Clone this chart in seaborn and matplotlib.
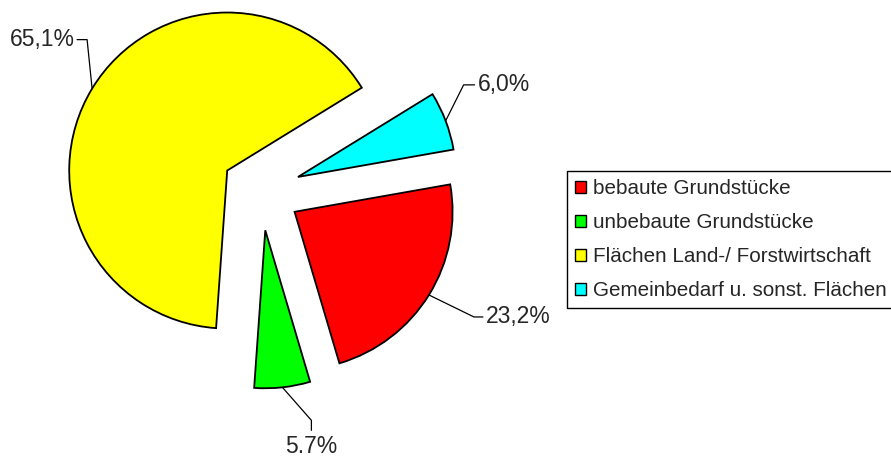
import numpy as np
import seaborn as sns
import matplotlib.pyplot as plt
from matplotlib.patches import Patch

# data
categories = ['bebaute Grundstücke', 'unbebaute Grundstücke',
              'Flächen Land-/ Forstwirtschaft', 'Gemeinbedarf u. sonst. Flächen']
shares = [23.2, 5.7, 65.1, 6.0]
pct_labels = ['23,2%', '5.7%', '65,1%', '6,0%']
colors = ['#ff0000', '#00ff00', '#ffff00', '#00ffff']

sns.set_style('white')
plt.rcParams['font.family'] = ['Liberation Sans', 'DejaVu Sans']

fig = plt.figure(figsize=(8.91, 4.59), dpi=100)

# pie axes: centre at pixel (261, 191), radius 158 px
R = 158.0
cx, cy = 261, 191
ax = fig.add_axes([0, 0, 540 / 891, 1])
wedges, _ = ax.pie(shares, colors=colors, startangle=10, counterclock=False,
                   explode=[0.25] * 4, radius=1,
                   wedgeprops=dict(edgecolor='black', linewidth=1.3))
ax.set_aspect('auto')
ax.set_xlim(-cx / R, (540 - cx) / R)
ax.set_ylim((cy - 459) / R, cy / R)
ax.axis('off')

# leader lines: elbow / end offsets from anchor, in pixels (x right, y down)
leaders = [((45, 22), (54, 22), 'left', 'center'),
           ((29, 33), (29, 43), 'center', 'bottom'),
           ((-5, -49), (-15, -49), 'right', 'center'),
           ((18, -36), (29, -36), 'left', 'center')]

for w, lab, (elb, end, ha, va) in zip(wedges, pct_labels, leaders):
    mid = np.deg2rad((w.theta1 + w.theta2) / 2)
    ax0 = w.center[0] + w.r * np.cos(mid)
    ay0 = w.center[1] + w.r * np.sin(mid)
    ex, ey = ax0 + elb[0] / R, ay0 - elb[1] / R
    tx, ty = ax0 + end[0] / R, ay0 - end[1] / R
    ax.plot([ax0, ex, tx], [ay0, ey, ty], color='black', lw=0.9, zorder=3)
    if ha == 'left':
        pos = (tx + 3 / R, ty)
    elif ha == 'right':
        pos = (tx - 2 / R, ty)
    else:
        # sits on the bottom edge of the figure
        pos = (tx, (cy - 458) / R)
    ax.text(pos[0], pos[1], lab, ha=ha, va=va, fontsize=16.5)

handles = [Patch(facecolor=c, edgecolor='black', linewidth=1.0) for c in colors]
leg = fig.legend(handles, categories, loc='upper left',
                 bbox_to_anchor=(567 / 891, 1 - 171 / 459),
                 fontsize=14.9, frameon=True, fancybox=False,
                 edgecolor='black', framealpha=1,
                 handlelength=0.5, handleheight=0.5, handletextpad=0.38,
                 labelspacing=0.72, borderpad=0.4, borderaxespad=0)
leg.get_frame().set_linewidth(1.0)

fig.savefig('out.png', dpi=100)
plt.close()
